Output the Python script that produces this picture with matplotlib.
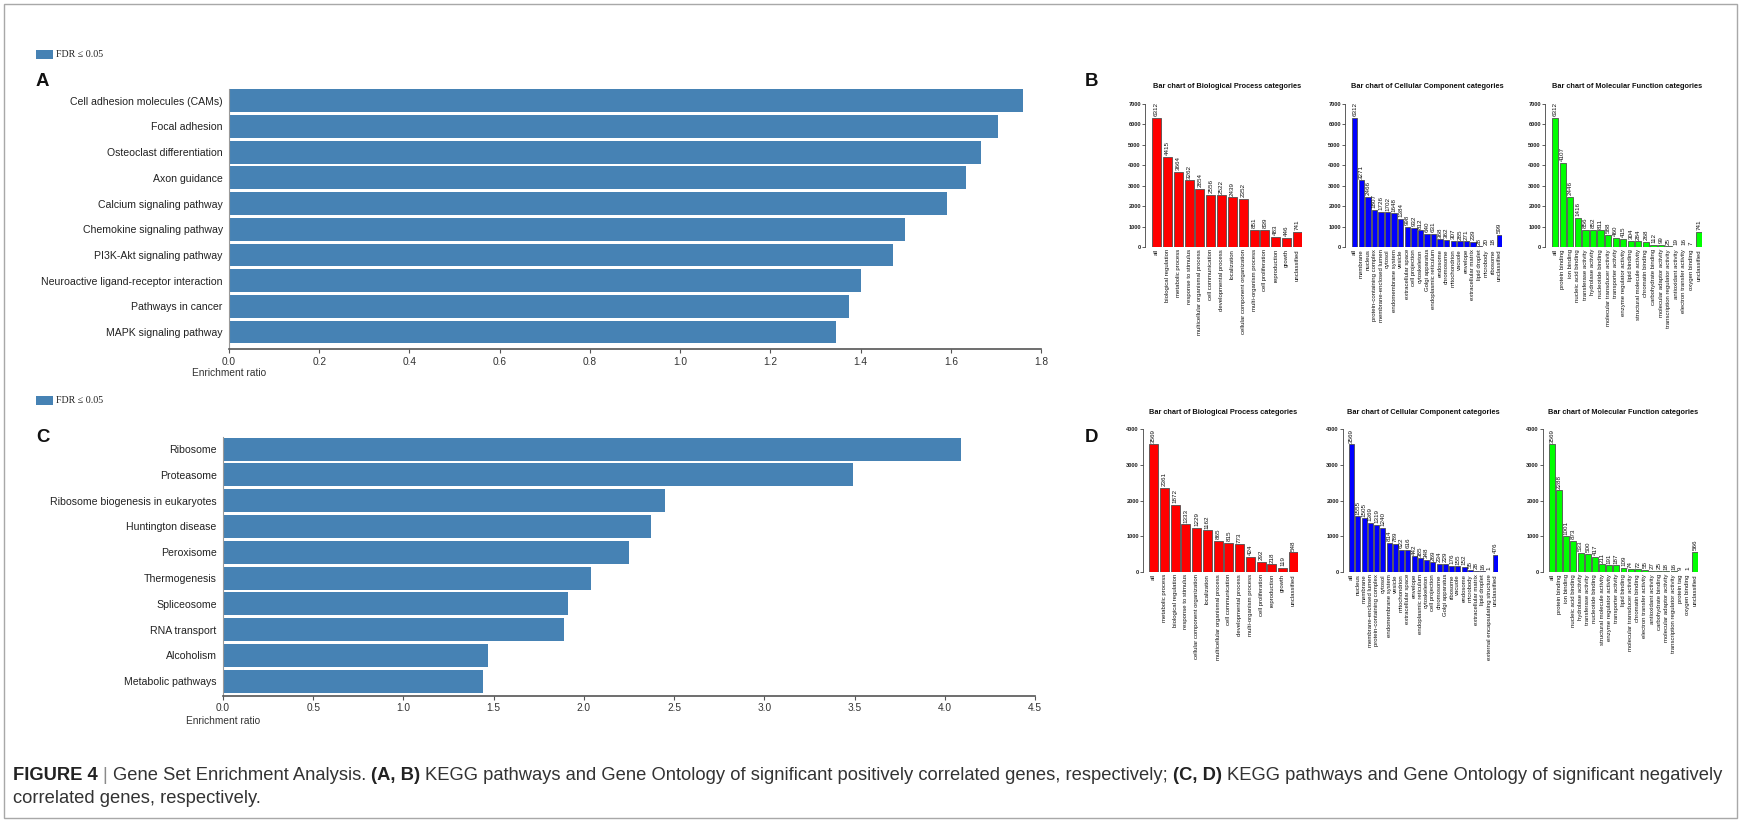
import matplotlib
matplotlib.use('Agg')
import matplotlib.pyplot as plt
import matplotlib.patches as mpatches
import numpy as np

# ---------------- data ----------------
kegg_pos_labels = ["Cell adhesion molecules (CAMs)", "Focal adhesion", "Osteoclast differentiation",
                   "Axon guidance", "Calcium signaling pathway", "Chemokine signaling pathway",
                   "PI3K-Akt signaling pathway", "Neuroactive ligand-receptor interaction",
                   "Pathways in cancer", "MAPK signaling pathway"]
kegg_pos_values = [1.76, 1.705, 1.668, 1.633, 1.592, 1.498, 1.471, 1.402, 1.374, 1.345]

kegg_neg_labels = ["Ribosome", "Proteasome", "Ribosome biogenesis in eukaryotes", "Huntington disease",
                   "Peroxisome", "Thermogenesis", "Spliceosome", "RNA transport", "Alcoholism",
                   "Metabolic pathways"]
kegg_neg_values = [4.09, 3.49, 2.45, 2.37, 2.25, 2.04, 1.91, 1.89, 1.47, 1.44]

bp_pos_labels = ["all", "biological regulation", "metabolic process", "response to stimulus",
                 "multicellular organismal process", "cell communication", "developmental process",
                 "localization", "cellular component organization", "multi-organism process",
                 "cell proliferation", "reproduction", "growth", "unclassified"]
bp_pos_values = [6312, 4415, 3664, 3262, 2854, 2556, 2522, 2439, 2352, 851, 839, 483, 446, 741]

cc_pos_labels = ["all", "membrane", "nucleus", "protein-containing complex", "membrane-enclosed lumen",
                 "cytosol", "endomembrane system", "vesicle", "extracellular space", "cell projection",
                 "cytoskeleton", "Golgi apparatus", "endoplasmic reticulum", "endosome", "chromosome",
                 "mitochondrion", "vacuole", "envelope", "extracellular matrix", "lipid droplet",
                 "microbody", "ribosome", "unclassified"]
cc_pos_values = [6312, 3271, 2466, 1807, 1726, 1702, 1648, 1384, 998, 932, 812, 640, 631, 368, 362,
                 307, 285, 271, 239, 28, 20, 18, 599]

mf_pos_labels = ["all", "protein binding", "ion binding", "nucleic acid binding", "transferase activity",
                 "hydrolase activity", "nucleotide binding", "molecular transducer activity",
                 "transporter activity", "enzyme regulator activity", "lipid binding",
                 "structural molecule activity", "chromatin binding", "carbohydrate binding",
                 "molecular adaptor activity", "transcription regulator activity", "antioxidant activity",
                 "electron transfer activity", "oxygen binding", "unclassified"]
mf_pos_values = [6312, 4107, 2446, 1416, 856, 852, 811, 588, 460, 415, 304, 284, 268, 112, 99, 25, 19,
                 16, 7, 741]

bp_neg_labels = ["all", "metabolic process", "biological regulation", "response to stimulus",
                 "cellular component organization", "localization", "multicellular organismal process",
                 "cell communication", "developmental process", "multi-organism process",
                 "cell proliferation", "reproduction", "growth", "unclassified"]
bp_neg_values = [3569, 2361, 1872, 1333, 1229, 1162, 865, 815, 773, 424, 292, 218, 119, 548]

cc_neg_labels = ["all", "nucleus", "membrane", "membrane-enclosed lumen", "protein-containing complex",
                 "cytosol", "endomembrane system", "vesicle", "mitochondrion", "extracellular space",
                 "envelope", "endoplasmic reticulum", "cytoskeleton", "cell projection", "chromosome",
                 "Golgi apparatus", "ribosome", "vacuole", "endosome", "microbody",
                 "extracellular matrix", "lipid droplet", "external encapsulating structure",
                 "unclassified"]
cc_neg_values = [3569, 1555, 1505, 1369, 1319, 1240, 814, 789, 622, 616, 442, 385, 348, 269, 234, 229,
                 176, 155, 152, 55, 28, 16, 1, 476]

mf_neg_labels = ["all", "protein binding", "ion binding", "nucleic acid binding", "hydrolase activity",
                 "transferase activity", "nucleotide binding", "structural molecule activity",
                 "enzyme regulator activity", "transporter activity", "lipid binding",
                 "molecular transducer activity", "chromatin binding", "electron transfer activity",
                 "antioxidant activity", "carbohydrate binding", "molecular adaptor activity",
                 "transcription regulator activity", "protein tag", "oxygen binding", "unclassified"]
mf_neg_values = [3569, 2288, 1001, 873, 533, 500, 417, 211, 191, 187, 109, 74, 72, 55, 27, 25, 18, 16,
                 9, 1, 566]

legend_text = "FDR \u2264 0.05"
xlabel_text = "Enrichment ratio"
go_titles = ["Bar chart of Biological Process categories",
             "Bar chart of Cellular Component categories",
             "Bar chart of Molecular Function categories"]

# ---------------- figure ----------------
W, H = 1749, 821
fig = plt.figure(figsize=(W / 100, H / 100), dpi=100)
fig.patch.set_facecolor('white')
SANS = ['Liberation Sans', 'DejaVu Sans']
SERIF = ['Liberation Serif', 'DejaVu Serif']
STEEL = '#4682B4'


def fx(x):
    return x / W


def fy(y):
    return 1 - y / H


def add_ax(left, top, right, bottom):
    return fig.add_axes([left / W, 1 - bottom / H, (right - left) / W, (bottom - top) / H])


def kegg_panel(labels, values, left, right, top, bottom, xmax, step, ybottom, ytop, lab_y):
    ax = add_ax(left, top, right, bottom)
    y = np.arange(len(labels))
    ax.barh(y, values, height=0.89, color=STEEL, edgecolor='none')
    ax.set_xlim(0, xmax)
    ax.set_ylim(ybottom, ytop)
    ax.set_yticks(y)
    ax.set_yticklabels(labels, fontsize=7.6, color='#222222', family=SANS)
    ax.tick_params(axis='y', length=0, pad=4.5)
    ticks = np.arange(0, xmax + 1e-9, step)
    ax.set_xticks(ticks)
    ax.set_xticklabels(['%.1f' % t for t in ticks], fontsize=7.3, color='#333333', family=SANS)
    ax.tick_params(axis='x', length=3, width=0.8, color='#555555', pad=2.6)
    for s in ['top', 'right']:
        ax.spines[s].set_visible(False)
    ax.spines['left'].set_color('#999999')
    ax.spines['left'].set_linewidth(0.8)
    ax.spines['bottom'].set_color('#555555')
    ax.spines['bottom'].set_linewidth(1.2)
    ax.set_facecolor('none')
    fig.text(fx(left), fy(lab_y), xlabel_text, fontsize=7.3, color='#333333', family=SANS,
             ha='center', va='center')
    return ax


# Panel A
kegg_panel(kegg_pos_labels, kegg_pos_values, 229, 1041, 89.3, 349, 1.8, 0.2, 9.66, -0.445, 372.7)
# Panel C
kegg_panel(kegg_neg_labels, kegg_neg_values, 223, 1035, 437.5, 695.7, 4.5, 0.5, 9.56, -0.448, 720.7)

# legends
for ly in (54.5, 400.5):
    fig.patches.append(mpatches.Rectangle((fx(36), fy(ly + 4.5)), 17.5 / W, 9 / H,
                                          transform=fig.transFigure, facecolor=STEEL,
                                          edgecolor='none'))
    fig.text(fx(56), fy(ly), legend_text, fontsize=7.2, family=SERIF, color='#222222',
             ha='left', va='center')

# panel letters
for letter, (lx, ly) in {'A': (36, 81.7), 'B': (1085, 81.7), 'C': (36, 438), 'D': (1085, 438)}.items():
    fig.text(fx(lx), fy(ly), letter, fontsize=13.4, fontweight='bold', family=SANS,
             color='#111111', ha='left', va='center')


# GO bar charts
def go_chart(labels, values, color, xl, xr, xs, base, ymax, ytop_px, title, title_y):
    n = len(labels)
    ax = add_ax(xl, ytop_px, xr, base)
    for s in ['top', 'right', 'bottom']:
        ax.spines[s].set_visible(False)
    ax.spines['left'].set_position(('outward', (xl - xs) * 0.72))
    ax.spines['left'].set_bounds(0, ymax)
    ax.spines['left'].set_color('#444444')
    ax.spines['left'].set_linewidth(0.6)
    centers = 0.7 + 1.2 * np.arange(n)
    ax.bar(centers, values, width=1.0, color=color, edgecolor='#505050', linewidth=0.6)
    ax.set_xlim(0.2, 1.2 * n)
    ax.set_ylim(0, ymax)
    ax.set_xticks(centers)
    ax.set_xticklabels(labels, rotation=90, fontsize=4.3, family=SANS, color='#111111')
    ax.tick_params(axis='x', length=0, pad=1.5, labelsize=4.3)
    yt = np.arange(0, ymax + 1, 1000)
    ax.set_yticks(yt)
    ax.set_yticklabels([str(int(v)) for v in yt], fontsize=4.1, fontweight='bold', family=SANS,
                       color='#222222')
    ax.tick_params(axis='y', length=2.2, width=0.6, color='#444444', pad=0.8, labelsize=4.1)
    ax.set_facecolor('none')
    for c, v in zip(centers, values):
        ax.annotate(str(v), (c, v), xytext=(0, 1.2), textcoords='offset points', rotation=90,
                    ha='center', va='bottom', fontsize=4.5, family=SANS, color='#111111',
                    annotation_clip=False)
    fig.text(fx((xl + xr) / 2), fy(title_y), title, fontsize=5.3, fontweight='bold', family=SANS,
             ha='center', va='center', color='#111111')


pos_sets = [(bp_pos_labels, bp_pos_values, '#FF0000'),
            (cc_pos_labels, cc_pos_values, '#0000FF'),
            (mf_pos_labels, mf_pos_values, '#00FF00')]
neg_sets = [(bp_neg_labels, bp_neg_values, '#FF0000'),
            (cc_neg_labels, cc_neg_values, '#0000FF'),
            (mf_neg_labels, mf_neg_values, '#00FF00')]
for k, (lab, val, col) in enumerate(pos_sets):
    xl = 1152 + 200 * k
    go_chart(lab, val, col, xl, xl + 150, xl - 7, 247, 7000, 104, go_titles[k], 87)
for k, (lab, val, col) in enumerate(neg_sets):
    xl = 1149 + 200 * k
    go_chart(lab, val, col, xl, xl + 149, xl - 6, 572, 4000, 429, go_titles[k], 413)

# caption
renderer = fig.canvas.get_renderer()
line1 = [("FIGURE 4", 'bold', '#222222'), ("|", 'normal', '#8a8a8a'),
         ("Gene Set Enrichment Analysis.", 'normal', '#333333'), ("(A, B)", 'bold', '#222222'),
         ("KEGG pathways and Gene Ontology of significant positively correlated genes, respectively;",
          'normal', '#333333'),
         ("(C, D)", 'bold', '#222222'),
         ("KEGG pathways and Gene Ontology of significant negatively", 'normal', '#333333')]
line2 = [("correlated genes, respectively.", 'normal', '#333333')]


def text_w(s, size, weight):
    t = fig.text(0, 0, s, fontsize=size, fontweight=weight, family=SANS)
    w = t.get_window_extent(renderer).width
    t.remove()
    return w


def space_w(size):
    return text_w("x x", size, 'normal') - text_w("xx", size, 'normal')


def line_w(parts, size):
    return sum(text_w(p, size, wt) for p, wt, _ in parts) + space_w(size) * (len(parts) - 1)


s0 = 12.0
cap_size = s0 * 1710.0 / line_w(line1, s0)


def draw_line(parts, x0, y, size):
    x = x0
    sp = space_w(size)
    for p, wt, col in parts:
        t = fig.text(fx(x), fy(y), p, fontsize=size, fontweight=wt, family=SANS, color=col,
                     ha='left', va='baseline')
        x += t.get_window_extent(renderer).width + sp


draw_line(line1, 13, 780, cap_size)
draw_line(line2, 13, 803, cap_size)

# border
fig.patches.append(mpatches.Rectangle((fx(3.5), fy(817.5)), (1737.5 - 3.5) / W, (817.5 - 4) / H,
                                      transform=fig.transFigure, fill=False, edgecolor='#a8a8a8',
                                      linewidth=1.0))

fig.savefig('out.png', dpi=100, facecolor='white')
